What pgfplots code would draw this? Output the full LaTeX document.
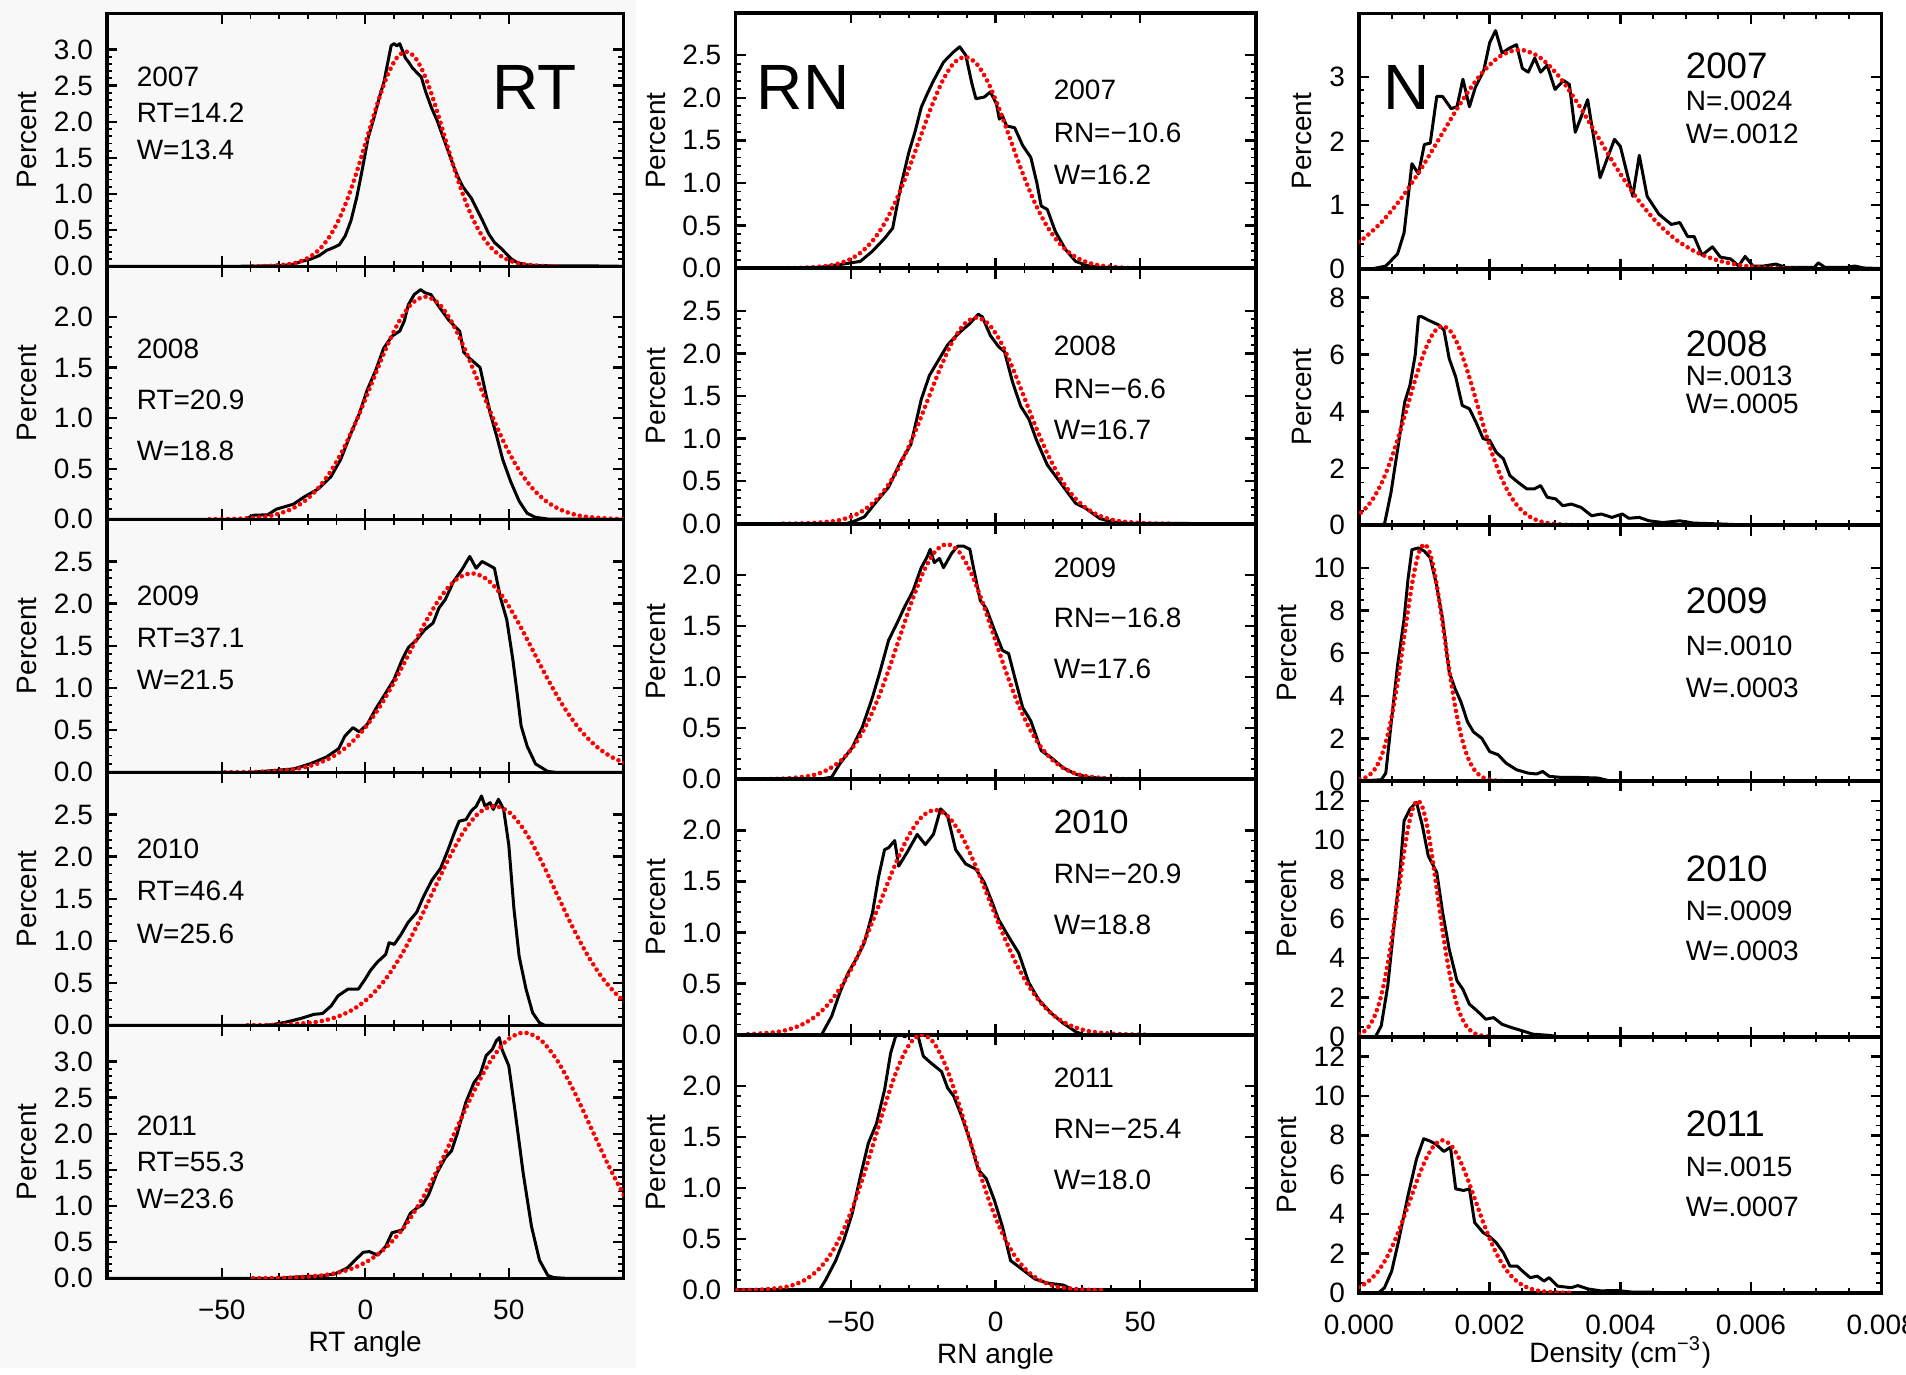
\documentclass[border=0pt]{standalone}
\usepackage{fontspec}
\setmainfont{Liberation Sans}
\usepackage{pgfplots}
\pgfplotsset{compat=1.18}
\newcommand\tf{\fontsize{7}{8.4}\selectfont}
\definecolor{bgc}{RGB}{248,248,248}
\pgfplotsset{
  P/.style={scale only axis, anchor=north west,
    axis line style={line width=0.9pt},
    tick align=inside, major tick length=2.6pt, minor tick length=1.3pt,
    every tick/.style={black, line width=0.6pt},
    every minor tick/.style={black, line width=0.45pt},
    tick label style={font=\tf}, label style={font=\tf},
    ylabel={Percent}, ymin=0, ylabel shift=-2.6pt,
    /pgf/number format/assume math mode=true,
    xticklabels={},
    xticklabel style={yshift=-1.9pt},
    xlabel style={at={(rel axis cs:0.5,0)}, anchor=base, yshift=-18.3pt}},
  LC/.style={P, width=129.15pt, height=63.25pt, xmin=-90, xmax=90,
    xtick={-50,0,50}, minor x tick num=4, minor y tick num=4,
    yticklabel style={/pgf/number format/.cd, fixed, fixed zerofill, precision=1, assume math mode=true}},
  MC/.style={P, width=130.075pt, height=63.875pt, xmin=-90, xmax=90,
    xtick={-50,0,50}, minor x tick num=4, minor y tick num=4,
    yticklabel style={/pgf/number format/.cd, fixed, fixed zerofill, precision=1, assume math mode=true}},
  RC/.style={P, width=130.675pt, height=63.975pt, xmin=0, xmax=8,
    xtick={0,2,4,6,8}, minor x tick num=3},
  blk/.style={black, line width=0.75pt, line join=round, no markers},
  fit/.style={red, line width=1.15pt, line cap=round, dash pattern=on 0pt off 1.55pt, no markers, smooth},
}
\begin{document}
\begin{tikzpicture}
\useasboundingbox (0,0) rectangle (476.5pt,-343.5pt);
\fill[bgc] (0,0) rectangle (159pt,-342pt);

% ---------------- Left column (RT) ----------------
\begin{axis}[LC, at={(26.75pt,-3.325pt)}, ymax=3.5, ytick={0,0.5,1,1.5,2,2.5,3}]
\addplot[blk] coordinates {(-90,0)(-45,0)(-35,0.005)(-29,0.01)(-25,0.03)(-22,0.07)(-19,0.1)(-16,0.15)(-13.5,0.22)(-11,0.26)(-9,0.3)(-7,0.42)(-5,0.63)(-3,0.95)(-1,1.35)(1,1.78)(3,2.05)(5,2.35)(6.5,2.55)(8,2.85)(9,3.05)(10,3.08)(11,3.05)(12,3.08)(13,2.98)(14,2.88)(15,2.83)(16.5,2.74)(18,2.68)(19.5,2.62)(21,2.42)(23,2.2)(25,2.02)(27,1.8)(29,1.58)(31,1.36)(32.5,1.22)(34,1.1)(35.5,1.02)(37,0.94)(39,0.78)(41,0.62)(43,0.45)(45,0.33)(47,0.26)(49,0.18)(51,0.1)(53,0.05)(56,0.02)(60,0.01)(70,0.005)(80,0.005)(90,0)};
\addplot[fit] coordinates {(-39.4,0.001)(-32.7,0.0065)(-26.0,0.033)(-22.65,0.068)(-19.3,0.130)(-15.95,0.236)(-12.6,0.402)(-9.25,0.642)(-5.9,0.964)(-2.55,1.360)(0.8,1.801)(4.15,2.242)(7.5,2.621)(10.85,2.879)(14.2,2.97)(17.55,2.879)(20.9,2.621)(24.25,2.242)(27.6,1.801)(30.95,1.360)(34.3,0.964)(37.65,0.642)(41.0,0.402)(44.35,0.236)(47.7,0.130)(51.05,0.068)(54.4,0.033)(61.1,0.0065)(67.8,0.001)};
\end{axis}

\begin{axis}[LC, at={(26.75pt,-66.575pt)}, ymax=2.5, ytick={0,0.5,1,1.5,2}]
\addplot[blk] coordinates {(-90,0)(-42,0)(-39,0.04)(-34,0.045)(-31,0.1)(-25,0.15)(-21.4,0.22)(-16.4,0.3)(-12,0.42)(-8.6,0.59)(-5,0.85)(-2,1.05)(0.7,1.28)(3.6,1.47)(6.4,1.69)(9.3,1.81)(12,1.86)(13.6,1.96)(15,2.12)(17,2.22)(19.3,2.27)(20.7,2.24)(22.9,2.22)(25.7,2.1)(29.3,1.96)(32.9,1.86)(34.3,1.65)(36.4,1.59)(40,1.5)(42,1.24)(43.6,1.04)(45.7,0.83)(47.9,0.59)(50.7,0.37)(53.6,0.18)(56.4,0.06)(59.3,0.02)(63.6,0.003)(90,0)};
\addplot[fit] coordinates {(-54.3,0.0007)(-44.9,0.0048)(-35.5,0.024)(-30.8,0.050)(-26.1,0.097)(-21.4,0.175)(-16.7,0.298)(-12.0,0.476)(-7.3,0.714)(-2.6,1.007)(2.1,1.334)(6.8,1.661)(11.5,1.942)(16.2,2.132)(20.9,2.2)(25.6,2.132)(30.3,1.942)(35.0,1.661)(39.7,1.334)(44.4,1.007)(49.1,0.714)(53.8,0.476)(58.5,0.298)(63.2,0.175)(67.9,0.097)(72.6,0.050)(77.3,0.024)(86.7,0.0048)(96.1,0.0007)};
\end{axis}

\begin{axis}[LC, at={(26.75pt,-129.825pt)}, ymax=3.0, ytick={0,0.5,1,1.5,2,2.5}]
\addplot[blk] coordinates {(-90,0)(-40,0)(-36,0.01)(-25,0.04)(-19.3,0.1)(-13.6,0.18)(-9.3,0.28)(-7.1,0.43)(-4.3,0.53)(-2.1,0.48)(0.7,0.57)(3.6,0.75)(7.1,0.94)(10,1.1)(12.9,1.34)(15,1.48)(17.9,1.57)(20.7,1.69)(23.6,1.77)(25.7,1.95)(27.9,2.05)(30.7,2.26)(33.6,2.4)(36.4,2.56)(38.6,2.42)(40.7,2.5)(42.9,2.46)(45,2.42)(47.1,2.07)(49.3,1.81)(51.4,1.34)(52.9,0.94)(54.3,0.55)(56.4,0.31)(59.3,0.1)(63.6,0.01)(66.4,0)(90,0)};
\addplot[fit] coordinates {(-48.9,0.0007)(-38.15,0.0052)(-27.4,0.026)(-22.025,0.054)(-16.65,0.104)(-11.275,0.188)(-5.9,0.319)(-0.525,0.510)(4.85,0.766)(10.225,1.080)(15.6,1.431)(20.975,1.781)(26.35,2.083)(31.725,2.287)(37.1,2.36)(42.475,2.287)(47.85,2.083)(53.225,1.781)(58.6,1.431)(63.975,1.080)(69.35,0.766)(74.725,0.510)(80.1,0.319)(85.475,0.188)(90.85,0.104)};
\end{axis}

\begin{axis}[LC, at={(26.75pt,-193.075pt)}, ymax=3.0, ytick={0,0.5,1,1.5,2,2.5}]
\addplot[blk] coordinates {(-90,0)(-35,0)(-32,0.01)(-27.4,0.04)(-22.6,0.08)(-17.9,0.13)(-14.9,0.14)(-11.9,0.23)(-9.5,0.35)(-6,0.43)(-2.4,0.43)(0,0.55)(1.8,0.65)(4.2,0.75)(7.1,0.84)(8.3,0.98)(10.1,0.96)(12.5,1.08)(14.9,1.22)(17.9,1.34)(20.2,1.52)(23.2,1.72)(26.2,1.86)(28.6,2.06)(31,2.28)(32.7,2.42)(35.1,2.44)(36.9,2.54)(38.7,2.6)(40.5,2.72)(41.7,2.6)(43.5,2.64)(44.6,2.56)(46.4,2.68)(48.2,2.56)(50,2.14)(51.8,1.38)(53.6,0.82)(56,0.43)(58.3,0.15)(60.7,0.03)(62.5,0)(90,0)};
\addplot[fit] coordinates {(-41,0.0008)(-30.25,0.0057)(-19.5,0.029)(-14.125,0.059)(-8.75,0.114)(-3.375,0.207)(2.0,0.352)(7.375,0.562)(12.75,0.844)(18.125,1.190)(23.5,1.577)(28.875,1.962)(34.25,2.295)(39.625,2.520)(45,2.6)(50.375,2.520)(55.75,2.295)(61.125,1.962)(66.5,1.577)(71.875,1.190)(77.25,0.844)(82.625,0.562)(88.0,0.352)(93.375,0.207)};
\end{axis}

\begin{axis}[LC, at={(26.75pt,-256.325pt)}, ymax=3.5, ytick={0,0.5,1,1.5,2,2.5,3},
  xticklabels={−50,0,50}, xlabel={RT angle}]
\addplot[blk] coordinates {(-90,0)(-30,0)(-23.6,0.02)(-16.4,0.03)(-10.7,0.06)(-6.4,0.14)(-3.6,0.25)(-0.7,0.36)(1.4,0.37)(4.3,0.32)(7.1,0.44)(9.3,0.63)(12.9,0.67)(15.7,0.9)(17.9,0.97)(20,1.02)(22.1,1.16)(25,1.46)(27.9,1.67)(30,1.76)(32.1,2.01)(35,2.43)(37.9,2.71)(40,2.82)(42.1,3.08)(44.3,3.17)(45.7,3.29)(46.7,3.33)(47.6,3.17)(50,2.94)(52.1,2.34)(55,1.46)(57.9,0.72)(60.7,0.25)(63.6,0.04)(65.7,0.01)(70,0)(90,0)};
\addplot[fit] coordinates {(-39.1,0.001)(-27.3,0.0075)(-15.5,0.038)(-9.6,0.078)(-3.7,0.149)(2.2,0.271)(8.1,0.460)(14.0,0.735)(19.9,1.104)(25.8,1.557)(31.7,2.062)(37.6,2.566)(43.5,3.0)(49.4,3.295)(55.3,3.4)(61.2,3.295)(67.1,3.0)(73.0,2.566)(78.9,2.062)(84.8,1.557)(90.7,1.104)};
\end{axis}

% ---------------- Middle column (RN) ----------------
\begin{axis}[MC, at={(183.85pt,-3.175pt)}, ymax=3.0, ytick={0,0.5,1,1.5,2,2.5}]
\addplot[blk] coordinates {(-90,0)(-61,0.01)(-52.5,0.05)(-46.8,0.08)(-42.6,0.2)(-38.4,0.35)(-35.6,0.47)(-32.8,0.96)(-30,1.36)(-27.8,1.61)(-25.7,1.89)(-23.6,2.05)(-21.5,2.2)(-18,2.42)(-14.5,2.54)(-12.4,2.6)(-10.3,2.5)(-8.2,2.17)(-6.8,1.99)(-3.9,2.01)(-1.8,2.07)(0.3,1.93)(1.3,1.75)(2.4,1.79)(3.8,1.67)(6.6,1.65)(9.4,1.44)(12.2,1.3)(14.3,1.0)(15.8,0.73)(17.9,0.69)(20.7,0.43)(24.2,0.22)(27.7,0.08)(31.9,0.03)(36.1,0.01)(48.8,0)(90,0)};
\addplot[fit] coordinates {(-73.8,0.0007)(-65.9,0.0055)(-58.0,0.028)(-54.05,0.057)(-50.1,0.109)(-46.15,0.197)(-42.2,0.336)(-38.25,0.536)(-34.3,0.805)(-30.35,1.135)(-26.4,1.504)(-22.45,1.872)(-18.5,2.189)(-14.55,2.404)(-10.6,2.48)(-6.65,2.404)(-2.7,2.189)(1.25,1.872)(5.2,1.504)(9.15,1.135)(13.1,0.805)(17.05,0.536)(21.0,0.336)(24.95,0.197)(28.9,0.109)(32.85,0.057)(36.8,0.028)(44.7,0.0055)(52.6,0.0007)};
\end{axis}

\begin{axis}[MC, at={(183.85pt,-67.05pt)}, ymax=3.0, ytick={0,0.5,1,1.5,2,2.5}]
\addplot[blk] coordinates {(-90,0)(-52,0)(-49.6,0.02)(-45.4,0.08)(-41.2,0.26)(-37,0.43)(-32.8,0.73)(-29.3,0.93)(-25.7,1.46)(-22.9,1.74)(-19.4,1.94)(-16.6,2.1)(-13.8,2.2)(-11,2.29)(-8.9,2.35)(-6,2.46)(-4.6,2.43)(-1.8,2.21)(1,2.08)(3.1,2.02)(5.9,1.66)(8.7,1.38)(11.5,1.23)(14.3,0.97)(17.9,0.69)(21.4,0.53)(24.2,0.4)(27.7,0.24)(31.2,0.18)(36.1,0.06)(40.4,0.02)(46,0.005)(90,0)};
\addplot[fit] coordinates {(-73.4,0.0007)(-65.05,0.0053)(-56.7,0.027)(-52.525,0.055)(-48.35,0.106)(-44.175,0.193)(-40.0,0.327)(-35.825,0.523)(-31.65,0.786)(-27.475,1.108)(-23.3,1.468)(-19.125,1.827)(-14.95,2.136)(-10.775,2.345)(-6.6,2.42)(-2.425,2.345)(1.75,2.136)(5.925,1.827)(10.1,1.468)(14.275,1.108)(18.45,0.786)(22.625,0.523)(26.8,0.327)(30.975,0.193)(35.15,0.106)(39.325,0.055)(43.5,0.027)(51.85,0.0053)(60.2,0.0007)};
\end{axis}

\begin{axis}[MC, at={(183.85pt,-130.925pt)}, ymax=2.5, ytick={0,0.5,1,1.5,2}]
\addplot[blk] coordinates {(-90,0)(-61,0)(-56.7,0.02)(-53.9,0.15)(-49.6,0.31)(-46.1,0.51)(-42.6,0.8)(-39.8,1.07)(-37,1.36)(-34.2,1.52)(-31.4,1.69)(-28.6,1.84)(-25.7,2.07)(-23.6,2.18)(-22.6,2.25)(-21.2,2.12)(-19.4,2.16)(-18,2.07)(-15.2,2.21)(-13.1,2.28)(-11,2.28)(-8.9,2.25)(-7.5,2.05)(-5.3,1.75)(-3.2,1.67)(-0.4,1.46)(2.4,1.26)(4.5,1.23)(6.6,1.0)(9.4,0.7)(12.2,0.57)(15.8,0.28)(19.3,0.21)(23.5,0.11)(27.7,0.05)(31.9,0.02)(41.8,0)(90,0)};
\addplot[fit] coordinates {(-82,0.0007)(-73.85,0.0051)(-65.7,0.026)(-61.625,0.052)(-57.55,0.101)(-53.475,0.183)(-49.4,0.311)(-45.325,0.497)(-41.25,0.747)(-37.175,1.053)(-33.1,1.395)(-29.025,1.736)(-24.95,2.030)(-20.875,2.229)(-16.8,2.30)(-12.725,2.229)(-8.65,2.030)(-4.575,1.736)(-0.5,1.395)(3.575,1.053)(7.65,0.747)(11.725,0.497)(15.8,0.311)(19.875,0.183)(23.95,0.101)(28.025,0.052)(32.1,0.026)(40.25,0.0051)(48.4,0.0007)};
\end{axis}

\begin{axis}[MC, at={(183.85pt,-194.8pt)}, ymax=2.5, ytick={0,0.5,1,1.5,2}]
\addplot[blk] coordinates {(-90,0)(-60.2,0)(-56.7,0.18)(-53.9,0.41)(-51.1,0.6)(-48.2,0.74)(-45.4,0.9)(-42.6,1.19)(-40.5,1.54)(-38.4,1.81)(-37,1.83)(-34.9,1.9)(-33.5,1.65)(-30.7,1.78)(-27.1,1.96)(-24.3,1.86)(-21.5,1.96)(-19,2.21)(-16.6,2.14)(-13.8,1.81)(-10.3,1.67)(-6.8,1.62)(-3.9,1.49)(-1.1,1.29)(1,1.13)(4.5,0.96)(8,0.8)(11.5,0.51)(15,0.34)(19.3,0.21)(23.5,0.11)(27.7,0.03)(30.5,0)(90,0)};
\addplot[fit] coordinates {(-85.65,0.0048)(-76.4,0.024)(-71.775,0.050)(-67.15,0.097)(-62.525,0.175)(-57.9,0.298)(-53.275,0.476)(-48.65,0.714)(-44.025,1.007)(-39.4,1.334)(-34.775,1.661)(-30.15,1.942)(-25.525,2.132)(-20.9,2.2)(-16.275,2.132)(-11.65,1.942)(-7.025,1.661)(-2.4,1.334)(2.225,1.007)(6.85,0.714)(11.475,0.476)(16.1,0.298)(20.725,0.175)(25.35,0.097)(29.975,0.050)(34.6,0.024)(43.85,0.0048)(53.1,0.0007)};
\end{axis}

\begin{axis}[MC, at={(183.85pt,-258.675pt)}, ymax=2.5, ytick={0,0.5,1,1.5,2},
  xticklabels={−50,0,50}, xlabel={RN angle}]
\addplot[blk] coordinates {(-90,0)(-61,0)(-58.8,0.1)(-55.3,0.29)(-52.5,0.49)(-49.6,0.75)(-46.8,1.11)(-44,1.44)(-41.2,1.63)(-38.4,1.96)(-36.3,2.32)(-34.2,2.52)(-31.4,2.48)(-29.3,2.52)(-27.1,2.52)(-25,2.29)(-22.2,2.22)(-18.7,2.14)(-16.6,1.98)(-14.5,1.9)(-11.7,1.7)(-8.9,1.47)(-6,1.18)(-3.2,1.09)(-0.4,0.88)(2.4,0.62)(5.2,0.29)(9.4,0.2)(13.6,0.11)(17.9,0.07)(23.5,0.05)(27,0)(90,0)};
\addplot[fit] coordinates {(-89.4,0.0008)(-81.4,0.0055)(-73.4,0.028)(-69.4,0.057)(-65.4,0.110)(-61.4,0.199)(-57.4,0.338)(-53.4,0.541)(-49.4,0.812)(-45.4,1.145)(-41.4,1.516)(-37.4,1.887)(-33.4,2.206)(-29.4,2.423)(-25.4,2.5)(-21.4,2.423)(-17.4,2.206)(-13.4,1.887)(-9.4,1.516)(-5.4,1.145)(-1.4,0.812)(2.6,0.541)(6.6,0.338)(10.6,0.199)(14.6,0.110)(18.6,0.057)(22.6,0.028)(30.6,0.0055)(38.6,0.0008)};
\end{axis}

% ---------------- Right column (N) ----------------
\begin{axis}[RC, at={(339.75pt,-3.325pt)}, ymax=4, ytick={0,1,2,3}, minor y tick num=4]
\addplot[blk] coordinates {(0,0)(0.22,0.01)(0.41,0.05)(0.59,0.24)(0.69,0.57)(0.75,1.11)(0.81,1.65)(0.91,1.49)(1.0,1.95)(1.09,1.97)(1.19,2.7)(1.28,2.7)(1.41,2.51)(1.5,2.54)(1.59,2.97)(1.69,2.54)(1.78,2.84)(1.91,3.11)(2.0,3.54)(2.09,3.73)(2.19,3.38)(2.31,3.46)(2.41,3.51)(2.5,3.14)(2.59,3.08)(2.69,3.3)(2.78,3.08)(2.88,3.19)(3.0,2.81)(3.13,2.95)(3.22,2.89)(3.31,2.14)(3.5,2.65)(3.69,1.43)(3.91,2.03)(4.0,1.92)(4.19,1.14)(4.29,1.78)(4.41,1.14)(4.59,0.86)(4.78,0.7)(4.91,0.73)(5.03,0.51)(5.13,0.51)(5.25,0.22)(5.41,0.35)(5.53,0.19)(5.69,0.16)(5.81,0.05)(5.91,0.2)(6.03,0.05)(6.19,0.05)(6.38,0.08)(6.53,0.03)(6.97,0.03)(7.03,0.1)(7.13,0.03)(7.47,0.03)(7.59,0.05)(7.72,0.02)(8,0.01)};
\addplot[fit] coordinates {(-0.25,0.273)(0.05,0.464)(0.35,0.742)(0.65,1.114)(0.95,1.570)(1.25,2.080)(1.55,2.589)(1.85,3.027)(2.15,3.324)(2.45,3.43)(2.75,3.324)(3.05,3.027)(3.35,2.589)(3.65,2.080)(3.95,1.570)(4.25,1.114)(4.55,0.742)(4.85,0.464)(5.15,0.273)(5.45,0.151)(5.75,0.078)(6.05,0.038)(6.65,0.0075)(7.25,0.001)};
\end{axis}

\begin{axis}[RC, at={(339.75pt,-67.3pt)}, ymax=9, ytick={0,2,4,6,8}, minor y tick num=3]
\addplot[blk] coordinates {(0,0)(0.3,0)(0.39,0.04)(0.49,1.15)(0.6,2.8)(0.7,4.33)(0.78,4.92)(0.86,5.98)(0.91,7.33)(0.96,7.33)(1.06,7.21)(1.22,7.04)(1.3,6.86)(1.38,5.86)(1.48,5.21)(1.58,4.21)(1.69,4.09)(1.79,3.62)(1.9,3.04)(2.0,2.98)(2.1,2.56)(2.21,2.33)(2.31,1.74)(2.42,1.53)(2.57,1.27)(2.68,1.27)(2.78,1.39)(2.88,0.98)(3.01,0.92)(3.12,0.68)(3.25,0.74)(3.4,0.62)(3.56,0.33)(3.71,0.39)(3.87,0.27)(4.03,0.39)(4.13,0.24)(4.29,0.27)(4.44,0.15)(4.65,0.09)(4.91,0.15)(5.12,0.07)(5.53,0.04)(5.95,0)(8,0)};
\addplot[fit] coordinates {(-0.045,0.307)(0.0875,0.557)(0.22,0.947)(0.3525,1.514)(0.485,2.273)(0.6175,3.205)(0.75,4.246)(0.8825,5.284)(1.015,6.178)(1.1475,6.784)(1.28,7.0)(1.4125,6.784)(1.545,6.178)(1.6775,5.284)(1.81,4.246)(1.9425,3.205)(2.075,2.273)(2.2075,1.514)(2.34,0.947)(2.4725,0.557)(2.605,0.307)(2.7375,0.160)(2.87,0.078)(3.135,0.015)(3.4,0.002)};
\end{axis}

\begin{axis}[RC, at={(339.75pt,-131.275pt)}, ymax=12, ytick={0,2,4,6,8,10}, minor y tick num=3]
\addplot[blk] coordinates {(0,0)(0.34,0.06)(0.41,0.37)(0.5,2.93)(0.59,5.42)(0.69,7.59)(0.75,9.46)(0.81,10.85)(0.91,10.93)(1.0,10.78)(1.09,10.47)(1.19,9.15)(1.28,7.59)(1.38,5.11)(1.47,4.33)(1.56,3.71)(1.66,2.78)(1.75,2.31)(1.88,2.0)(2.0,1.38)(2.13,1.23)(2.25,0.84)(2.41,0.53)(2.59,0.37)(2.72,0.33)(2.81,0.45)(2.91,0.22)(3.09,0.17)(3.34,0.17)(3.66,0.14)(3.84,0)(8,0)};
\addplot[fit] coordinates {(-0.085,0.024)(0.07,0.123)(0.1475,0.253)(0.225,0.487)(0.3025,0.884)(0.38,1.502)(0.4575,2.401)(0.535,3.604)(0.6125,5.082)(0.69,6.732)(0.7675,8.378)(0.845,9.796)(0.9225,10.758)(1.0,11.1)(1.0775,10.758)(1.155,9.796)(1.2325,8.378)(1.31,6.732)(1.3875,5.082)(1.465,3.604)(1.5425,2.401)(1.62,1.502)(1.6975,0.884)(1.775,0.487)(1.8525,0.253)(1.93,0.123)(2.085,0.024)(2.24,0.003)};
\end{axis}

\begin{axis}[RC, at={(339.75pt,-195.25pt)}, ymax=13, ytick={0,2,4,6,8,10,12}, minor y tick num=3]
\addplot[blk] coordinates {(0,0)(0.25,0)(0.34,0.56)(0.44,2.59)(0.53,5.47)(0.63,8.53)(0.69,10.98)(0.78,11.58)(0.88,11.92)(0.97,10.73)(1.06,9.2)(1.19,8.36)(1.28,6.32)(1.38,4.46)(1.5,2.85)(1.59,2.42)(1.69,1.66)(1.81,1.32)(1.94,0.9)(2.06,0.98)(2.19,0.64)(2.34,0.47)(2.5,0.31)(2.66,0.14)(2.91,0.08)(3.09,0)(8,0)};
\addplot[fit] coordinates {(0.0,0.133)(0.075,0.274)(0.15,0.527)(0.225,0.955)(0.3,1.624)(0.375,2.596)(0.45,3.896)(0.525,5.494)(0.6,7.278)(0.675,9.058)(0.75,10.59)(0.825,11.630)(0.9,12)(0.975,11.630)(1.05,10.59)(1.125,9.058)(1.2,7.278)(1.275,5.494)(1.35,3.896)(1.425,2.596)(1.5,1.624)(1.575,0.955)(1.65,0.527)(1.725,0.274)(1.8,0.133)(1.95,0.026)(2.1,0.004)};
\end{axis}

\begin{axis}[RC, at={(339.75pt,-259.225pt)}, ymax=13, ytick={0,2,4,6,8,10,12}, minor y tick num=3,
  xticklabels={0.000,0.002,0.004,0.006,0.008}, xlabel={Density (cm\textsuperscript{−3})}, xlabel style={yshift=0.8pt}]
\addplot[blk] coordinates {(0,0)(0.3,0)(0.39,0.26)(0.5,1.1)(0.6,2.55)(0.75,4.94)(0.88,6.8)(0.99,7.83)(1.08,7.72)(1.17,7.57)(1.3,7.18)(1.4,7.4)(1.48,5.28)(1.6,5.2)(1.69,5.28)(1.77,3.57)(1.9,3.06)(2.0,2.85)(2.1,2.55)(2.21,2.04)(2.31,1.36)(2.42,1.36)(2.52,1.05)(2.62,0.77)(2.73,0.85)(2.83,0.6)(2.91,0.77)(3.04,0.34)(3.25,0.26)(3.35,0.37)(3.5,0.2)(3.7,0.1)(3.95,0.12)(4.2,0.03)(4.5,0.03)(4.7,0)(8,0)};
\addplot[fit] coordinates {(-0.095,0.177)(0.03,0.340)(0.155,0.617)(0.28,1.049)(0.405,1.676)(0.53,2.516)(0.655,3.548)(0.78,4.700)(0.905,5.850)(1.03,6.839)(1.155,7.511)(1.28,7.75)(1.405,7.511)(1.53,6.839)(1.655,5.850)(1.78,4.700)(1.905,3.548)(2.03,2.516)(2.155,1.676)(2.28,1.049)(2.405,0.617)(2.53,0.340)(2.655,0.177)(2.78,0.086)(3.03,0.017)(3.28,0.002)};
\end{axis}

% ---------------- Annotations ----------------
\begin{scope}[every node/.style={anchor=west, inner sep=0pt, font=\tf}]
\node at (34pt,-19.25pt) {2007};
\node at (34pt,-28.25pt) {RT=14.2};
\node at (34pt,-37.5pt) {W=13.4};
\node at (34pt,-87.25pt) {2008};
\node at (34pt,-100pt) {RT=20.9};
\node at (34pt,-112.75pt) {W=18.8};
\node at (34pt,-149pt) {2009};
\node at (34pt,-159.5pt) {RT=37.1};
\node at (34pt,-170pt) {W=21.5};
\node at (34pt,-212.25pt) {2010};
\node at (34pt,-222.75pt) {RT=46.4};
\node at (34pt,-233.5pt) {W=25.6};
\node at (34pt,-281.5pt) {2011};
\node at (34pt,-290.5pt) {RT=55.3};
\node at (34pt,-299.75pt) {W=23.6};

\node at (263.25pt,-22.5pt) {2007};
\node at (263.25pt,-33.125pt) {RN=−10.6};
\node at (263.25pt,-43.75pt) {W=16.2};
\node at (263.25pt,-86.5pt) {2008};
\node at (263.25pt,-97.25pt) {RN=−6.6};
\node at (263.25pt,-107.5pt) {W=16.7};
\node at (263.25pt,-142pt) {2009};
\node at (263.25pt,-154.4pt) {RN=−16.8};
\node at (263.25pt,-167.15pt) {W=17.6};
\node[font=\fontsize{8.4}{10}\selectfont] at (263.25pt,-205.5pt) {2010};
\node at (263.25pt,-218.5pt) {RN=−20.9};
\node at (263.25pt,-231.25pt) {W=18.8};
\node at (263.25pt,-269.5pt) {2011};
\node at (263.25pt,-282.25pt) {RN=−25.4};
\node at (263.25pt,-295pt) {W=18.0};

\node[font=\fontsize{9.2}{11}\selectfont] at (421.25pt,-16.5pt) {2007};
\node at (421.25pt,-25.25pt) {N=.0024};
\node at (421.25pt,-33.5pt) {W=.0012};
\node[font=\fontsize{9.2}{11}\selectfont] at (421.25pt,-86pt) {2008};
\node at (421.25pt,-94pt) {N=.0013};
\node at (421.25pt,-101pt) {W=.0005};
\node[font=\fontsize{9.2}{11}\selectfont] at (421.25pt,-150.1pt) {2009};
\node at (421.25pt,-161.4pt) {N=.0010};
\node at (421.25pt,-172pt) {W=.0003};
\node[font=\fontsize{9.2}{11}\selectfont] at (421.25pt,-217.25pt) {2010};
\node at (421.25pt,-227.6pt) {N=.0009};
\node at (421.25pt,-237.65pt) {W=.0003};
\node[font=\fontsize{9.2}{11}\selectfont] at (421.25pt,-281pt) {2011};
\node at (421.25pt,-291.75pt) {N=.0015};
\node at (421.25pt,-301.75pt) {W=.0007};
\end{scope}

\node[anchor=base west, inner sep=0pt, font=\fontsize{16}{18}\selectfont] at (123pt,-27.25pt) {RT};
\node[anchor=base west, inner sep=0pt, font=\fontsize{16}{18}\selectfont] at (189pt,-27.25pt) {RN};
\node[anchor=base west, inner sep=0pt, font=\fontsize{16}{18}\selectfont] at (345.75pt,-27.25pt) {N};
\end{tikzpicture}
\end{document}
